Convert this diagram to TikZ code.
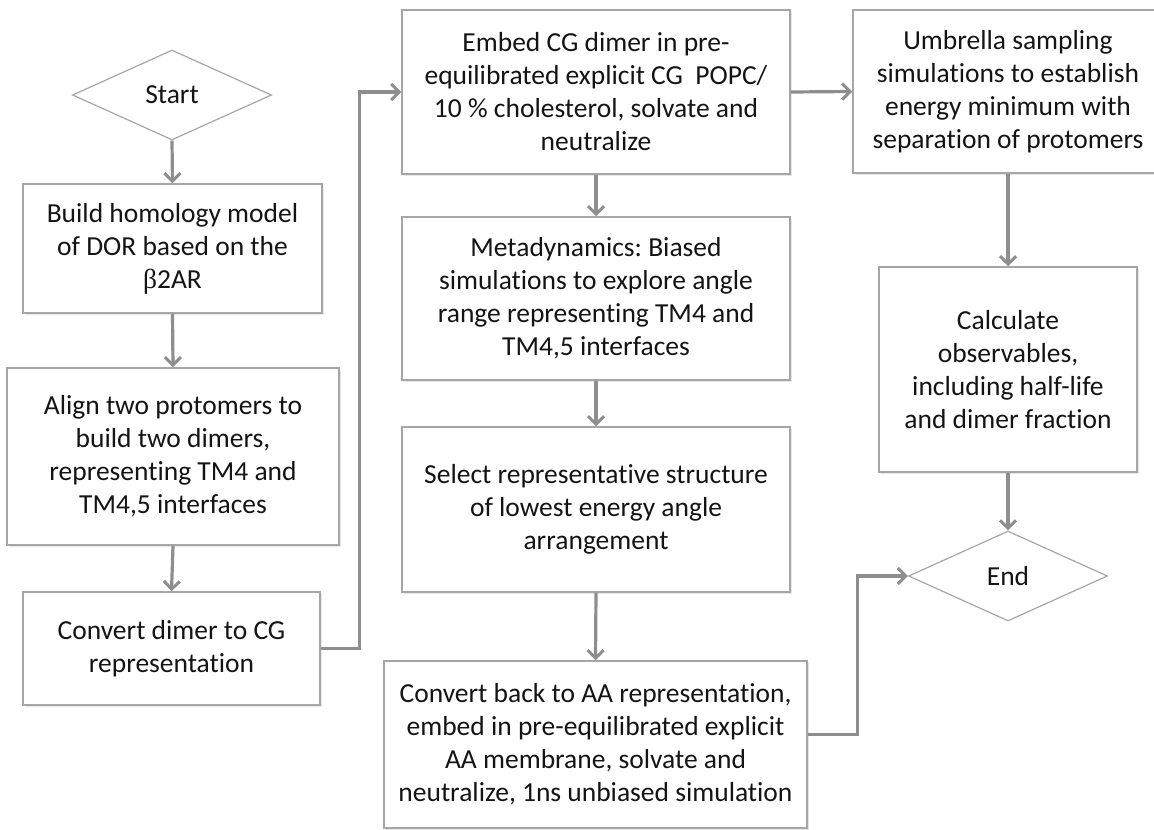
\documentclass[tikz,border=0pt]{standalone}
\usepackage{fontspec}
\setmainfont{Carlito}[Ligatures={NoCommon}]
\newfontfamily\grkfont{Liberation Serif}
\usetikzlibrary{shapes.geometric,arrows.meta,shadows}
\definecolor{boxline}{HTML}{A6A6A6}
\definecolor{arrowline}{HTML}{8E8E8E}
\frenchspacing
\begin{document}
\begin{tikzpicture}[x=1pt,y=-1pt,
  every node/.style={font=\fontsize{27.5}{33}\selectfont, text=black!92, align=center},
  stepbox/.style={draw=boxline, line width=1.5pt, fill=white, rectangle, inner sep=0pt,
    drop shadow={shadow xshift=2pt, shadow yshift=-2pt, fill=black!18}},
  termbox/.style={draw=boxline, line width=1.2pt, fill=white, diamond, inner sep=0pt,
    minimum width=199pt, minimum height=90pt},
  flow/.style={draw=arrowline, line width=3.2pt,
    -{Straight Barb[length=8pt,width=16pt,line width=3pt]}}]
\useasboundingbox (0,0) rectangle (1154,830);
\fill[white] (0,0) rectangle (1154,830);

\node[termbox] (start) at (172,95) {Start};
\node[stepbox, minimum width=299pt, minimum height=129pt] (b1) at (172.5,248.5)
  {Build homology model\\of DOR based on the\\{\grkfont β}2AR};
\node[stepbox, minimum width=332pt, minimum height=177pt] (b2) at (173,456.5)
  {Align two protomers to\\build two dimers,\\representing TM4 and\\TM4,5 interfaces};
\node[stepbox, minimum width=297pt, minimum height=113pt] (b3) at (171.5,648.5)
  {Convert dimer to CG\\representation};
\node[stepbox, minimum width=388pt, minimum height=164pt] (b4) at (596,92)
  {Embed CG dimer in pre-\\equilibrated explicit CG\ \ POPC/\\10 \% cholesterol, solvate and\\neutralize};
\node[stepbox, minimum width=388pt, minimum height=163pt] (b5) at (596,298.5)
  {Metadynamics: Biased\\simulations to explore angle\\range representing TM4 and\\TM4,5 interfaces};
\node[stepbox, minimum width=388pt, minimum height=165pt] (b6) at (596,509.5)
  {Select representative structure\\of lowest energy angle\\arrangement};
\node[stepbox, minimum width=423pt, minimum height=167pt] (b7) at (595.5,744.5)
  {Convert back to AA representation,\\embed in pre-equilibrated explicit\\AA membrane, solvate and\\neutralize, 1ns unbiased simulation};
\node[stepbox, minimum width=310pt, minimum height=163pt] (b8) at (1008,91.5)
  {Umbrella sampling\\simulations to establish\\energy minimum with\\separation of protomers};
\node[stepbox, minimum width=258pt, minimum height=205pt] (b9) at (1008,369.5)
  {Calculate\\observables,\\including half-life\\and dimer fraction};
\node[termbox] (end) at (1008,576) {End};

\draw[flow] (start.south) -- (b1.north);
\draw[flow] (b1.south) -- (b2.north);
\draw[flow] (b2.south) -- (b3.north);
\draw[flow] (b3.east) -- ++(39,0) |- (b4.west);
\draw[flow] (b4.south) -- (b5.north);
\draw[flow] (b5.south) -- (b6.north);
\draw[flow] (b6.south) -- (b7.north);
\draw[flow] ([yshift=10pt]b7.east) -- ++(50,0) |- (end.west);
\draw[flow] (b4.east) -- (b8.west);
\draw[flow] (b8.south) -- (b9.north);
\draw[flow] (b9.south) -- (end.north);
\end{tikzpicture}
\end{document}
